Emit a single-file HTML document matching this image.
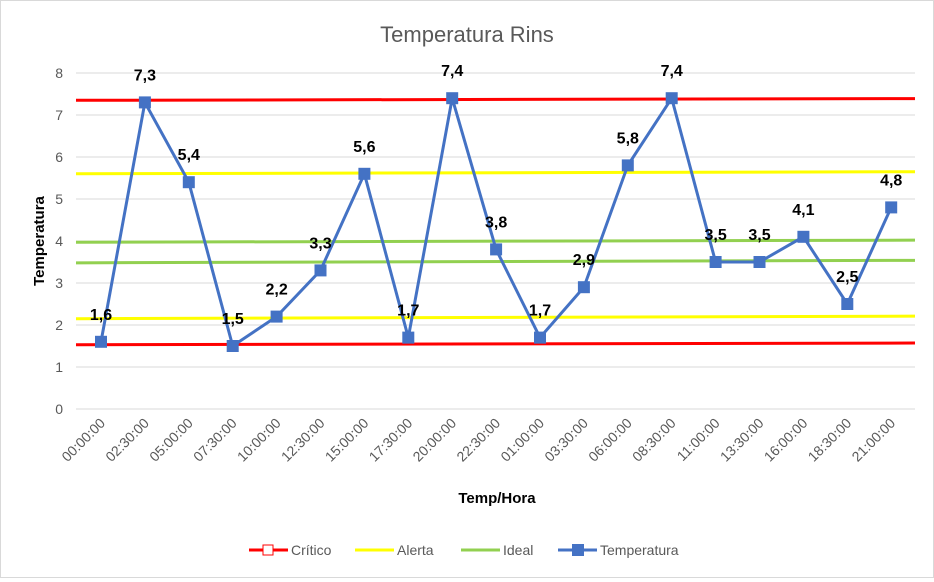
<!DOCTYPE html>
<html><head><meta charset="utf-8"><style>
body{margin:0;background:#fff;}
#wrap{width:932px;height:576px;border:1px solid #d9d9d9;position:relative;}
svg text{font-family:"Liberation Sans",sans-serif;}
</style></head><body>
<div id="wrap">
<svg id="c" width="932" height="576"></svg>
</div>
<script>
const categories=["00:00:00","02:30:00","05:00:00","07:30:00","10:00:00","12:30:00","15:00:00","17:30:00","20:00:00","22:30:00","01:00:00","03:30:00","06:00:00","08:30:00","11:00:00","13:30:00","16:00:00","18:30:00","21:00:00"];
const temps=[1.6,7.3,5.4,1.5,2.2,3.3,5.6,1.7,7.4,3.8,1.7,2.9,5.8,7.4,3.5,3.5,4.1,2.5,4.8];
const labels=["1,6","7,3","5,4","1,5","2,2","3,3","5,6","1,7","7,4","3,8","1,7","2,9","5,8","7,4","3,5","3,5","4,1","2,5","4,8"];
const yTicks=[0,1,2,3,4,5,6,7,8];
const criticoLow=[1.53,1.57], criticoHigh=[7.35,7.39];
const alertaLow=[2.15,2.21], alertaHigh=[5.6,5.65];
const idealLow=[3.48,3.54], idealHigh=[3.97,4.02];
const NS="http://www.w3.org/2000/svg", svg=document.getElementById('c');
const y=v=>408-v*42, x=i=>100+i*43.9;
const X0=75,X1=914;
function el(t,a,txt){const e=document.createElementNS(NS,t);for(const k in a)e.setAttribute(k,a[k]);if(txt!==undefined)e.textContent=txt;svg.appendChild(e);return e;}
let e=el('text',{x:466,y:41,'text-anchor':'middle','font-size':22,fill:'#595959'},'Temperatura Rins');


yTicks.forEach(t=>{
 let g=el('line',{x1:X0,x2:X1,y1:y(t),y2:y(t),stroke:'#d9d9d9','stroke-width':1});
 
 
 let l=el('text',{x:62,y:y(t)+5,'text-anchor':'end','font-size':14,fill:'#595959'},t);
 
 
});
categories.forEach((c,i)=>{
 let l=el('text',{x:x(i)+5,y:423,'text-anchor':'end','font-size':14,fill:'#595959',transform:`rotate(-45 ${x(i)+5} 423)`},c);
 
 
});
e=el('text',{x:43,y:240,'text-anchor':'middle','font-size':15,'font-weight':'bold',fill:'#000',transform:'rotate(-90 43 240)'},'Temperatura');


e=el('text',{x:496,y:502,'text-anchor':'middle','font-size':15,'font-weight':'bold',fill:'#000'},'Temp/Hora');


function hline(v,col,name){let l=el('line',{x1:X0,x2:X1,y1:y(v[0]),y2:y(v[1]),stroke:col,'stroke-width':3});
 
 }
hline(idealLow,'#92d050','ideal-low-line');hline(idealHigh,'#92d050','ideal-high-line');
hline(alertaLow,'#ffff00','alerta-low-line');hline(alertaHigh,'#ffff00','alerta-high-line');
hline(criticoLow,'#ff0000','critico-low-line');hline(criticoHigh,'#ff0000','critico-high-line');
e=el('polyline',{points:temps.map((v,i)=>x(i)+','+y(v)).join(' '),fill:'none',stroke:'#4472c4','stroke-width':3});


temps.forEach((v,i)=>{
 let m=el('rect',{x:x(i)-6,y:y(v)-6,width:12,height:12,fill:'#4472c4'});
 
 
 let t=el('text',{x:x(i),y:y(v)-22,'text-anchor':'middle','font-size':16,'font-weight':'bold',fill:'#000'},labels[i]);
 
 
});
const lg=[["Crítico","#ff0000",248],["Alerta","#ffff00",354],["Ideal","#92d050",460],["Temperatura","#4472c4",557]];
lg.forEach(([n,c,lx])=>{
 let l=el('line',{x1:lx,x2:lx+39,y1:549,y2:549,stroke:c,'stroke-width':3});
 
 
 if(n==="Crítico"){let r=el('rect',{x:lx+14,y:544,width:10,height:10,fill:'#fff',stroke:c,'stroke-width':1});}
 if(n==="Temperatura"){let r=el('rect',{x:lx+14,y:543,width:12,height:12,fill:c});}
 let t=el('text',{x:lx+42,y:554,'font-size':14,fill:'#595959'},n);
 
 
});
</script>
</body></html>
